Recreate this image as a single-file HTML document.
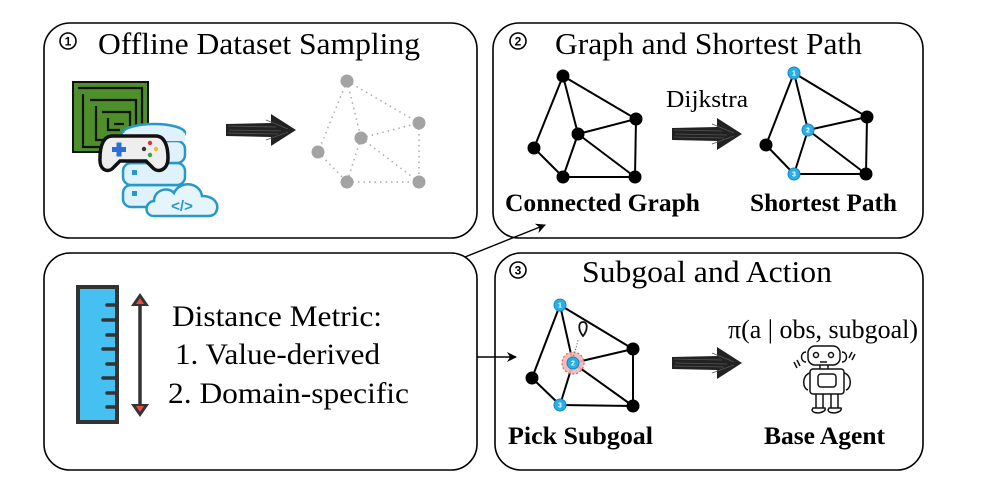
<!DOCTYPE html>
<html><head><meta charset="utf-8"><style>
html,body{margin:0;padding:0;background:#fff;}
svg{display:block;font-family:"Liberation Serif",serif;}
</style></head><body>
<svg width="997" height="493" viewBox="0 0 997 493" xmlns="http://www.w3.org/2000/svg">
<defs>
<marker id="ah" markerWidth="10" markerHeight="10" refX="9" refY="5" orient="auto" markerUnits="userSpaceOnUse">
<path d="M0,0 L10,5 L0,10 L3,5 Z" fill="#000"/></marker>
<g id="bigarrow">
<path d="M0,-6 L45,-7 L45,-16 L70,0 L45,16 L45,7 L0,6 Z" fill="#222"/>
<path d="M2,-4 L50,-3 M3,0 L55,1 M2,3 L52,4 M40,-10 L62,-1 M40,10 L62,2" stroke="#555" stroke-width="0.8"/>
</g>
</defs>
<!-- boxes -->
<rect x="44" y="23" width="433" height="215" rx="26" fill="none" stroke="#000" stroke-width="1.6"/>
<rect x="493" y="23" width="430" height="215" rx="26" fill="none" stroke="#000" stroke-width="1.6"/>
<rect x="44" y="253" width="433" height="217" rx="26" fill="none" stroke="#000" stroke-width="1.6"/>
<rect x="495" y="253" width="428" height="217" rx="26" fill="none" stroke="#000" stroke-width="1.6"/>

<!-- connectors -->
<line x1="465" y1="257" x2="545" y2="225" stroke="#000" stroke-width="1.4" marker-end="url(#ah)"/>
<line x1="477" y1="357" x2="516" y2="357" stroke="#000" stroke-width="1.4" marker-end="url(#ah)"/>

<!-- titles -->
<circle cx="68" cy="41" r="8" fill="none" stroke="#000" stroke-width="1.6"/>
<text x="68" y="45.5" font-size="12" font-family="Liberation Sans,sans-serif" font-weight="bold" text-anchor="middle">1</text>
<text x="98" y="54" font-size="31" textLength="322" lengthAdjust="spacingAndGlyphs">Offline Dataset Sampling</text>
<circle cx="518" cy="41" r="8" fill="none" stroke="#000" stroke-width="1.6"/>
<text x="518" y="45.5" font-size="12" font-family="Liberation Sans,sans-serif" font-weight="bold" text-anchor="middle">2</text>
<text x="555" y="54" font-size="31" textLength="307" lengthAdjust="spacingAndGlyphs">Graph and Shortest Path</text>
<circle cx="518" cy="270" r="8" fill="none" stroke="#000" stroke-width="1.6"/>
<text x="518" y="274.5" font-size="12" font-family="Liberation Sans,sans-serif" font-weight="bold" text-anchor="middle">3</text>
<text x="582" y="282" font-size="31" textLength="250" lengthAdjust="spacingAndGlyphs">Subgoal and Action</text>

<!-- box1 icons -->
<rect x="73" y="82" width="75" height="70" fill="#4e8f2a" stroke="#111" stroke-width="2"/>
<g fill="none" stroke="#111" stroke-width="2.2">
<path d="M78,88 H142 V147 M83,94 V147 H130 M90,100 H136 V140 M96,106 V140 H124 M102,112 H130 V134 M108,118 V130 H120 M114,124 H124"/>
</g>
<!-- database -->
<g fill="#dff1fa" stroke="#2699c7" stroke-width="2.5">
<rect x="123" y="185" width="62" height="22" rx="8"/>
<rect x="123" y="163" width="62" height="22" rx="8"/>
<rect x="123" y="141" width="62" height="22" rx="8"/>
<ellipse cx="154" cy="133" rx="31" ry="9"/>
<rect x="123" y="133" width="62" height="8" stroke="none"/>
</g>
<rect x="132" y="170" width="5" height="5" fill="#2699c7"/>
<rect x="132" y="191" width="5" height="5" fill="#2699c7"/>
<!-- controller -->
<path d="M112,136 H156 C164,136 168,145 168,158 C168,170 158,174 152,167 L146,161 H120 L114,167 C108,174 99,170 100,158 C100,145 104,136 112,136 Z" fill="#eee" stroke="#111" stroke-width="3.5"/>
<rect x="112" y="147" width="14" height="5" fill="#2a6fd6"/><rect x="116.5" y="142.5" width="5" height="14" fill="#2a6fd6"/>
<circle cx="150" cy="143" r="2.2" fill="#d33"/><circle cx="150" cy="155" r="2.2" fill="#3a3"/><circle cx="144" cy="149" r="2.2" fill="#333"/><circle cx="156" cy="149" r="2.2" fill="#eb3"/>
<!-- cloud -->
<path d="M154,216 C144,216 144,202 154,201 C154,190 168,186 174,193 C180,180 200,182 202,196 C214,196 220,204 216,212 C214,216 210,216 206,216 Z" fill="#e6f4fb" stroke="#2699c7" stroke-width="2.5"/>
<text x="182" y="211" font-size="15" font-family="Liberation Sans,sans-serif" fill="#2699c7" text-anchor="middle" font-weight="bold">&lt;/&gt;</text>
<use href="#bigarrow" x="226" y="130"/>
<!-- gray graph -->
<g stroke="#aaa" stroke-width="1.5" stroke-dasharray="1.5 4" fill="none">
<path d="M347,81 L318,152 M347,81 L361,138 M347,81 L419,123 M361,138 L419,123 M361,138 L347,182 M361,138 L419,182 M419,123 L419,182 M347,182 L419,182 M318,152 L347,182"/>
</g>
<g fill="#a3a3a3">
<circle cx="347" cy="81" r="6.5"/><circle cx="419" cy="123" r="6.5"/><circle cx="361" cy="138" r="6.5"/><circle cx="318" cy="152" r="6.5"/><circle cx="347" cy="182" r="6.5"/><circle cx="419" cy="182" r="6.5"/>
</g>

<!-- box2 connected graph -->
<g stroke="#000" stroke-width="2" fill="none">
<path d="M563,76 L534,148 M563,76 L578,134 M563,76 L636,119 M636,119 L578,134 M636,119 L635,177 M578,134 L563,177 M578,134 L635,177 M534,148 L563,177 M563,177 L635,177"/>
</g>
<g fill="#000">
<circle cx="563" cy="76" r="6.5"/><circle cx="636" cy="119" r="6.5"/><circle cx="578" cy="134" r="6.5"/><circle cx="534" cy="148" r="6.5"/><circle cx="563" cy="177" r="6.5"/><circle cx="635" cy="177" r="6.5"/>
</g>
<text x="666" y="107" font-size="24" textLength="82" lengthAdjust="spacingAndGlyphs">Dijkstra</text>
<use href="#bigarrow" x="672" y="134"/>
<g stroke="#000" stroke-width="2" fill="none">
<path d="M794,73 L766,145 M794,73 L808,130 M794,73 L867,117 M867,117 L808,130 M867,117 L866,174 M808,130 L794,174 M808,130 L866,174 M766,145 L794,174 M794,174 L866,174"/>
</g>
<g fill="#000"><circle cx="867" cy="117" r="6.5"/><circle cx="766" cy="145" r="6.5"/><circle cx="866" cy="174" r="6.5"/></g>
<g fill="#29aee6" stroke="#1488c0" stroke-width="1">
<circle cx="794" cy="73" r="6"/><circle cx="808" cy="130" r="6"/><circle cx="794" cy="174" r="6"/></g>
<g fill="#fff" font-size="7" font-family="Liberation Sans,sans-serif" font-weight="bold" text-anchor="middle">
<text x="794" y="75.5">1</text><text x="808" y="132.5">2</text><text x="794" y="176.5">3</text></g>
<text x="505" y="211" font-size="25" font-weight="bold" textLength="195" lengthAdjust="spacingAndGlyphs">Connected Graph</text>
<text x="750" y="211" font-size="25" font-weight="bold" textLength="147" lengthAdjust="spacingAndGlyphs">Shortest Path</text>

<!-- box3 -->
<rect x="78" y="287" width="39" height="135" fill="#45c0f0" stroke="#333" stroke-width="4"/>
<g stroke="#333" stroke-width="3.5" stroke-linecap="round">
<path d="M117,305 H107 M117,320 H103 M117,335 H107 M117,349 H103 M117,364 H107 M117,378 H103 M117,393 H107 M117,407 H107"/></g>
<line x1="140" y1="298" x2="140" y2="412" stroke="#333" stroke-width="3.5"/>
<path d="M131,306 L140,293 L149,306 Z" fill="#333"/><path d="M136,304 L140,298 L144,304 Z" fill="#e74c3c"/>
<path d="M131,404 L140,417 L149,404 Z" fill="#333"/><path d="M136,406 L140,412 L144,406 Z" fill="#e74c3c"/>
<text x="172" y="326" font-size="30" textLength="210" lengthAdjust="spacingAndGlyphs">Distance Metric:</text>
<text x="175" y="364" font-size="30" textLength="205" lengthAdjust="spacingAndGlyphs">1. Value-derived</text>
<text x="168" y="403" font-size="30" textLength="241" lengthAdjust="spacingAndGlyphs">2. Domain-specific</text>

<!-- box4 graph -->
<g stroke="#000" stroke-width="2" fill="none">
<path d="M560,305 L532,378 M560,305 L573,363 M560,305 L633,349 M633,349 L573,363 M633,349 L633,406 M573,363 L560,405 M573,363 L633,406 M532,378 L560,405 M560,405 L633,406"/>
</g>
<g fill="#000"><circle cx="633" cy="349" r="6.5"/><circle cx="532" cy="378" r="6.5"/><circle cx="633" cy="406" r="6.5"/></g>
<circle cx="573" cy="363" r="11" fill="#f3b7b4" stroke="#d9534f" stroke-width="1.2" stroke-dasharray="2 2" opacity="0.9"/>
<path d="M578,340 Q575,352 573,358" stroke="#777" stroke-width="1" stroke-dasharray="1.5 1.5" fill="none"/>
<path d="M583,336 C578,330 578,322 583,322 C588,322 588,330 583,336 Z" fill="#fff" stroke="#111" stroke-width="1.8"/>
<g fill="#29aee6" stroke="#1488c0" stroke-width="1">
<circle cx="560" cy="305" r="6"/><circle cx="573" cy="363" r="6"/><circle cx="560" cy="405" r="6"/></g>
<g fill="#fff" font-size="7" font-family="Liberation Sans,sans-serif" font-weight="bold" text-anchor="middle">
<text x="560" y="307.5">1</text><text x="573" y="365.5">2</text><text x="560" y="407.5">3</text></g>
<use href="#bigarrow" x="672" y="363"/>
<text x="728" y="338" font-size="26" textLength="190" lengthAdjust="spacingAndGlyphs">π(a | obs, subgoal)</text>
<!-- robot -->
<g fill="none" stroke="#111" stroke-width="1.5">
<rect x="808" y="346" width="32" height="19" rx="7"/>
<circle cx="816" cy="355" r="2.5"/><circle cx="831" cy="355" r="2.5"/><path d="M820,362 H827"/>
<path d="M806,352 C800,352 800,362 806,362 M842,352 C848,352 848,362 842,362"/>
<path d="M820,365 V369 M828,365 V369"/>
<rect x="810" y="369" width="34" height="25" rx="3"/>
<rect x="818" y="374" width="18" height="13" rx="3"/>
<path d="M810,373 C802,375 802,388 808,390 M844,373 C852,375 852,388 846,390"/>
<path d="M816,394 V408 M823,394 V408 M831,394 V408 M838,394 V408"/>
<path d="M813,408 H825 C827,413 813,415 812,410 Z M829,408 H841 C843,413 829,415 828,410 Z"/>
<path d="M794,362 L797,368 M797,360 L800,366 M852,352 L849,358 M855,354 L852,360"/>
</g>
<text x="508" y="444" font-size="25" font-weight="bold" textLength="145" lengthAdjust="spacingAndGlyphs">Pick Subgoal</text>
<text x="764" y="444" font-size="25" font-weight="bold" textLength="121" lengthAdjust="spacingAndGlyphs">Base Agent</text>
</svg>
</body></html>
